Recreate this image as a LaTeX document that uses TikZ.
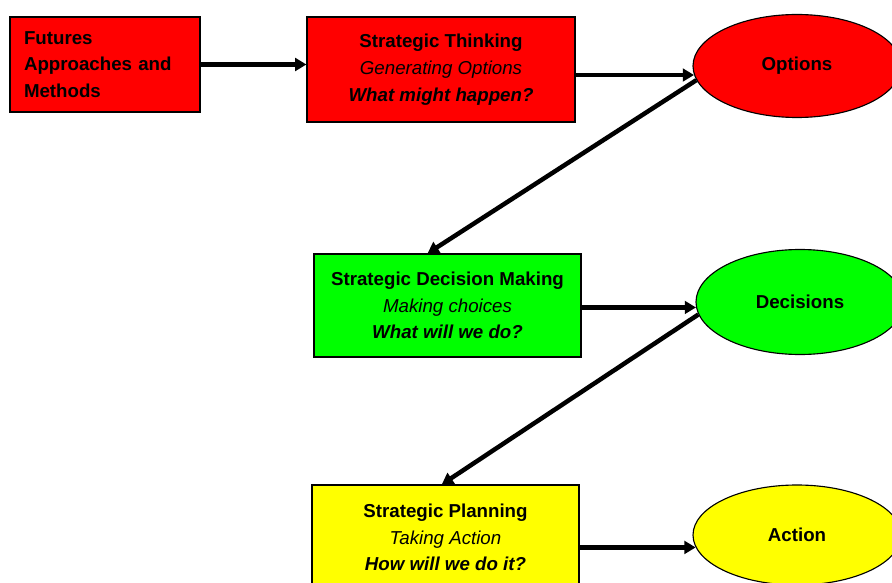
\documentclass[tikz,border=0pt]{standalone}
\usepackage{xcolor}
\usepackage{fontspec}
\setmainfont{Liberation Sans}
\usetikzlibrary{arrows.meta,shapes.geometric}

\definecolor{boxred}{RGB}{255,0,0}
\definecolor{boxgreen}{RGB}{0,255,0}
\definecolor{boxyellow}{RGB}{255,255,0}

\tikzset{
    stagebox/.style={draw=black, line width=0.8pt, rectangle, align=center,
        inner sep=2pt, font=\fontsize{13.3}{19}\selectfont},
    outcome/.style={draw=black, line width=0.8pt, ellipse,
        minimum width=208*0.025cm, inner sep=0pt,
        font=\bfseries\fontsize{13.3}{19}\selectfont},
    flow/.style={line width=3.2pt, -{Triangle[length=8pt,width=9pt]}}
}

\begin{document}
\begin{tikzpicture}[x=0.025cm, y=-0.025cm]
            \useasboundingbox (0,0) rectangle (892,583);

            % boxes on the left
            \node[stagebox, fill=boxred, align=left, text width=162*0.025cm,
                  minimum width=190*0.025cm, minimum height=95*0.025cm] (futures) at (105,64.5)
                  {\bfseries Futures\\ \bfseries Approaches and\\ \bfseries Methods};
            \node[stagebox, fill=boxred, minimum width=268*0.025cm, minimum height=105*0.025cm] (thinking) at (441,69.5)
                  {\bfseries Strategic Thinking\\ \itshape Generating Options\\ \bfseries\itshape What might happen?};
            \node[stagebox, fill=boxgreen, minimum width=267*0.025cm, minimum height=103*0.025cm] (decision) at (447.5,305.5)
                  {\bfseries Strategic Decision Making\\ \itshape Making choices\\ \bfseries\itshape What will we do?};
            \node[stagebox, fill=boxyellow, minimum width=267*0.025cm, minimum height=105*0.025cm] (planning) at (445.5,537.5)
                  {\bfseries Strategic Planning\\ \itshape Taking Action\\ \bfseries\itshape How will we do it?};

            % outcomes on the right
            \node[outcome, fill=boxred, minimum height=103*0.025cm] (options) at (797,66) {Options};
            \node[outcome, fill=boxgreen, minimum height=105*0.025cm] (decisions) at (800,302) {Decisions};
            \node[outcome, fill=boxyellow, minimum height=100*0.025cm] (action) at (797,535) {Action};

            % arrows
            \draw[flow] (futures.east) -- (futures.east -| thinking.west);
            \draw[flow] (thinking.east |- options.185) -- (options.185);
            \draw[flow] (options.188) -- (decision.111);
            \draw[flow] (decision.east |- decisions.183) -- (decisions.183);
            \draw[flow] (decisions.187) -- (planning.94);
            \draw[flow] (planning.east |- action.187) -- (action.187);
        \end{tikzpicture}
\end{document}
